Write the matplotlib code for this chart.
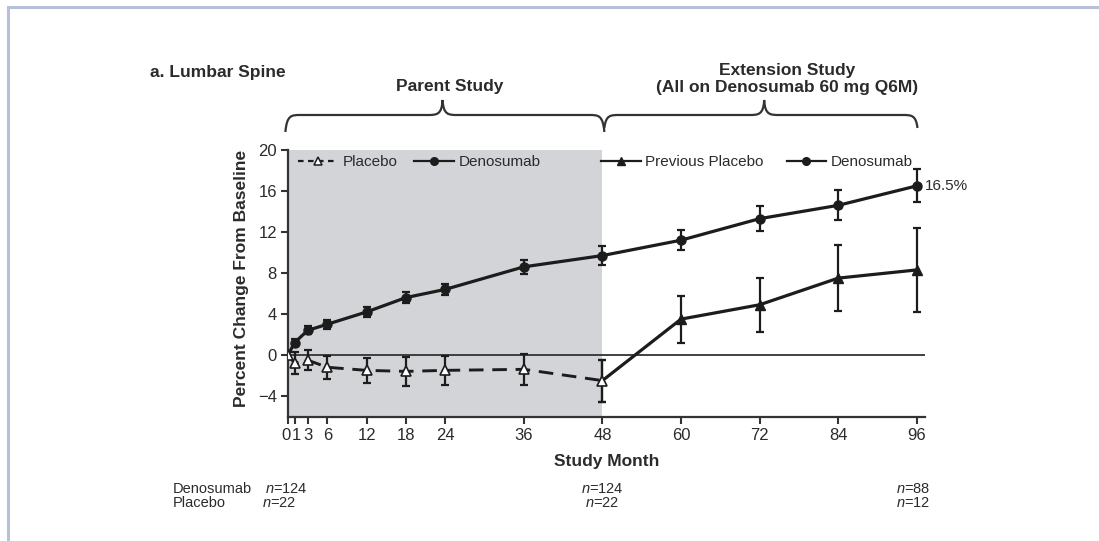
import matplotlib
matplotlib.use("Agg")
import matplotlib.pyplot as plt
from matplotlib.path import Path
from matplotlib.patches import PathPatch
from matplotlib.lines import Line2D
from matplotlib.transforms import blended_transform_factory, ScaledTranslation

# ---- data -------------------------------------------------------------
months = [0, 1, 3, 6, 12, 18, 24, 36, 48, 60, 72, 84, 96]
tick_labels = ["0", "1", "3", "6", "12", "18", "24", "36", "48", "60", "72", "84", "96"]

deno_months = [0, 1, 3, 6, 12, 18, 24, 36, 48, 60, 72, 84, 96]
deno_values = [0.0, 1.2, 2.4, 3.0, 4.2, 5.6, 6.4, 8.6, 9.7, 11.2, 13.3, 14.6, 16.5]
deno_err = [0.0, 0.35, 0.4, 0.45, 0.45, 0.5, 0.55, 0.65, 0.95, 1.0, 1.2, 1.45, 1.6]

plac_months = [0, 1, 3, 6, 12, 18, 24, 36, 48]
plac_values = [0.0, -0.8, -0.5, -1.2, -1.5, -1.6, -1.5, -1.4, -2.5]
plac_err = [0.0, 1.1, 1.0, 1.1, 1.2, 1.4, 1.4, 1.5, 2.05]

prev_months = [48, 60, 72, 84, 96]
prev_values = [-2.5, 3.5, 4.9, 7.5, 8.3]
prev_err = [2.05, 2.3, 2.65, 3.25, 4.1]

y_ticks = [-4, 0, 4, 8, 12, 16, 20]

n_rows = ["Denosumab", "Placebo"]
n_deno = ["n=124", "n=124", "n=88"]
n_plac = ["n=22", "n=22", "n=12"]
n_at = [None, 48, 96]

final_label = "16.5%"

# ---- styling -------------------------------------------------------------
W, H = 1099, 541
INK = "#1c1c1c"
TXT = "#2b2b2b"
SHADE = "#d3d4d8"
FRAME = "#b7bfda"
REG = ["Liberation Sans", "DejaVu Sans"]

plt.rcParams["font.family"] = REG
plt.rcParams["mathtext.fontset"] = "custom"
plt.rcParams["mathtext.it"] = "Liberation Sans:italic"
plt.rcParams["mathtext.rm"] = "Liberation Sans"

fig = plt.figure(figsize=(W / 100, H / 100), dpi=100)

# axes box in pixels
ax_l, ax_r, ax_t, ax_b = 288, 925, 150, 417
ax = fig.add_axes([ax_l / W, 1 - ax_b / H, (ax_r - ax_l) / W, (ax_b - ax_t) / H])

ax.set_xlim(0, 97.25)
ax.set_ylim(-6.05, 20)

# shaded parent-study period
ax.fill_between([0, 48], -6.05, 20, color=SHADE, lw=0, zorder=0)
ax.axhline(0, color="#333333", lw=1.3, zorder=1)

eb_kw = dict(ecolor=INK, elinewidth=1.6, capsize=3, capthick=1.6)

# denosumab, continuous over both studies
ax.errorbar(deno_months[1:], deno_values[1:], yerr=deno_err[1:], fmt="none", zorder=3, **eb_kw)
ax.plot(deno_months, deno_values, color=INK, lw=2.3, marker="o", ms=6.5,
        markevery=list(range(1, len(deno_months))), zorder=4)

# previous placebo in the extension
ax.errorbar(prev_months, prev_values, yerr=prev_err, fmt="none", zorder=3, **eb_kw)
ax.plot(prev_months, prev_values, color=INK, lw=2.3, marker="^", ms=7,
        markevery=list(range(1, len(prev_months))), zorder=4)

# placebo in the parent study
ax.errorbar(plac_months[1:], plac_values[1:], yerr=plac_err[1:], fmt="none", zorder=5, **eb_kw)
ax.plot(plac_months, plac_values, color=INK, lw=2.1, dashes=(5, 3),
        marker="^", ms=7.5, mfc="white", mec=INK, mew=1.2, zorder=6)

ax.annotate(final_label, xy=(deno_months[-1], deno_values[-1]), xytext=(6, 0),
            textcoords="offset points", ha="left", va="center", fontsize=11, color=TXT)

# axes cosmetics
for s in ("top", "right"):
    ax.spines[s].set_visible(False)
for s in ("left", "bottom"):
    ax.spines[s].set_color("#333333")
    ax.spines[s].set_linewidth(1.6)

ax.set_xticks(months)
ax.set_xticklabels(tick_labels, fontsize=12, color=TXT)
ax.set_yticks(y_ticks)
ax.set_yticklabels([str(v).replace("-", "\u2212") for v in y_ticks], fontsize=12, color=TXT)
ax.tick_params(axis="both", direction="out", length=5, width=1.5, color="#333333", pad=3)

# nudge the crowded "0" and "1" month labels apart
xt = ax.xaxis.get_major_ticks()
for tk, dx in ((xt[0], -1.5), (xt[1], 1.5)):
    tk.label1.set_transform(tk.label1.get_transform() + ScaledTranslation(dx / 100, 0, fig.dpi_scale_trans))

ax.set_ylabel("Percent Change From Baseline", fontsize=12.5, fontweight="bold", color=TXT, labelpad=6)
ax.yaxis.set_label_coords(-0.062, 0.52)
ax.set_xlabel("Study Month", fontsize=12.5, fontweight="bold", color=TXT, labelpad=8)

# ---- legends over each study period -----------------------------------
leg_kw = dict(frameon=False, ncol=2, fontsize=11, handlelength=2.6, handletextpad=0.3,
              borderpad=0, borderaxespad=0, loc="center left", bbox_transform=fig.transFigure,
              labelcolor=TXT)
h_plac = Line2D([], [], color=INK, lw=1.6, dashes=(2.5, 2), marker="^", ms=6,
                mfc="white", mec=INK, mew=1.1)
h_deno = Line2D([], [], color=INK, lw=1.6, marker="o", ms=5.5)
h_prev = Line2D([], [], color=INK, lw=1.6, marker="^", ms=6)
fig.legend([h_plac, h_deno], ["Placebo", "Denosumab"], columnspacing=1.1,
           bbox_to_anchor=(298 / W, 1 - 162 / H), **leg_kw)
fig.legend([h_prev, h_deno], ["Previous Placebo", "Denosumab"], columnspacing=1.5,
           bbox_to_anchor=(601 / W, 1 - 162 / H), **leg_kw)

# ---- curly braces marking each study ------------------------------------
bt = blended_transform_factory(ax.transData, fig.transFigure)


def brace(x0, x1, xc, yb, ym, yt, q=2.3):
    yb, ym, yt = 1 - yb / H, 1 - ym / H, 1 - yt / H
    verts = [
        (x0, yb), (x0 + 0.1 * q, ym), (x0 + 0.4 * q, ym), (x0 + q, ym),
        (xc - q, ym),
        (xc - 0.4 * q, ym), (xc - 0.05 * q, ym), (xc, yt),
        (xc + 0.05 * q, ym), (xc + 0.4 * q, ym), (xc + q, ym),
        (x1 - q, ym),
        (x1 - 0.4 * q, ym), (x1 - 0.1 * q, ym), (x1, yb),
    ]
    codes = [Path.MOVETO, Path.CURVE4, Path.CURVE4, Path.CURVE4,
             Path.LINETO,
             Path.CURVE4, Path.CURVE4, Path.CURVE4,
             Path.CURVE4, Path.CURVE4, Path.CURVE4,
             Path.LINETO,
             Path.CURVE4, Path.CURVE4, Path.CURVE4]
    fig.add_artist(PathPatch(Path(verts, codes), transform=bt, fill=False,
                             ec="#333333", lw=1.6, clip_on=False))


brace(-0.4, 48.3, 23.6, 132, 115, 100)
brace(48.3, 96.1, 72.7, 128, 115, 100)

fig.text(450 / W, 1 - 87 / H, "Parent Study", ha="center", va="center",
         fontsize=12.5, fontweight="bold", color=TXT)
fig.text(787 / W, 1 - 79 / H, "Extension Study\n(All on Denosumab 60 mg Q6M)", ha="center",
         va="center", fontsize=12.5, fontweight="bold", color=TXT, linespacing=1.2)
fig.text(150 / W, 1 - 72 / H, "a. Lumbar Spine", ha="left", va="center",
         fontsize=12.5, fontweight="bold", color=TXT)

# ---- numbers of subjects under the axis ----------------------------------
y1, y2 = 1 - 489 / H, 1 - 503 / H
n_kw = dict(va="center", fontsize=10.5, color=TXT)
fig.text(173 / W, y1, n_rows[0], ha="left", **n_kw)
fig.text(173 / W, y2, n_rows[1], ha="left", **n_kw)


def n_text(s):
    k, v = s.split("=")
    return r"$\mathit{" + k + "}$=" + v


fig.text(265 / W, y1, n_text(n_deno[0]), ha="left", **n_kw)
fig.text(262 / W, y2, n_text(n_plac[0]), ha="left", **n_kw)
for m, a, b in zip(n_at[1:], n_deno[1:], n_plac[1:]):
    last = m == months[-1]
    ha = "right" if last else "center"
    xm = m + (2.0 if last else 0)
    fig.text(xm, y1, n_text(a), ha=ha, transform=bt, **n_kw)
    fig.text(xm, y2, n_text(b), ha=ha, transform=bt, **n_kw)

# ---- page frame -----------------------------------------------------------
fig.add_artist(Line2D([8 / W, 1], [1 - 7 / H, 1 - 7 / H], transform=fig.transFigure,
                      color=FRAME, lw=2.2))
fig.add_artist(Line2D([8 / W, 8 / W], [0, 1 - 7 / H], transform=fig.transFigure,
                      color=FRAME, lw=2.2))

fig.savefig("out.png", dpi=100)
